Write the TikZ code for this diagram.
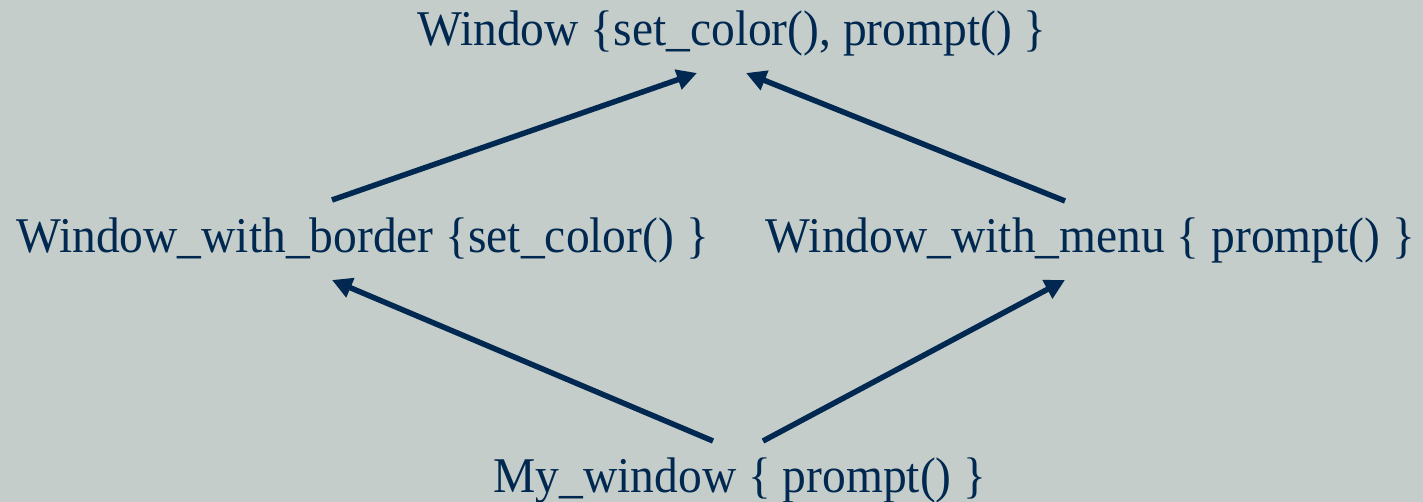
\documentclass[tikz,border=0pt]{standalone}
\usepackage{fontspec}
\setmainfont{Liberation Serif}
\usetikzlibrary{arrows.meta,calc}
\definecolor{bg}{RGB}{196,205,201}
\definecolor{ink}{RGB}{0,40,80}
\newcommand{\sq}[1]{\scalebox{0.95}[1]{#1}}
\begin{document}
\begin{tikzpicture}[x=1pt,y=1pt,
  lbl/.style={inner sep=0pt,anchor=base,text=ink,font=\fontsize{50}{60}\selectfont},
  arr/.style={draw=ink,line width=5.5pt,-{Triangle[length=20pt,width=20pt]}}]
\fill[bg] (0,0) rectangle (1423,502);
\useasboundingbox (0,0) rectangle (1423,502);
\node[lbl] (top) at (732,456) {\sq{Window \{set\_color(), prompt() \}}};
\node[lbl] (wb) at (362.5,249) {\sq{Window\_with\_border \{set\_color() \}}};
\node[lbl] (wm) at (1090.5,249) {\sq{Window\_with\_menu \{ prompt() \}}};
\node[lbl] (my) at (740,9) {\sq{My\_window \{ prompt() \}}};
\draw[arr] ($(wb.base)+(-30.5,53)$) -- ($(top.base)+(-35,-27)$);
\draw[arr] ($(wm.base)+(-25.5,52)$) -- ($(top.base)+(14,-27)$);
\draw[arr] ($(my.base)+(-27,52)$) -- ($(wb.base)+(-30.5,-27)$);
\draw[arr] ($(my.base)+(23,52)$) -- ($(wm.base)+(-25.5,-27)$);
\end{tikzpicture}
\end{document}
